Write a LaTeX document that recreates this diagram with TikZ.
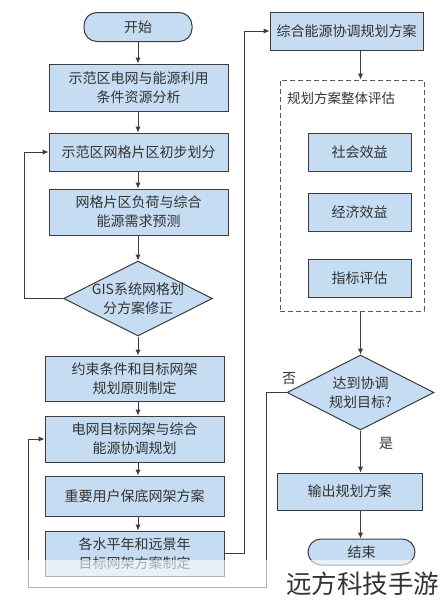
\documentclass[tikz,border=0pt]{standalone}
\usepackage{fontspec}
\setmainfont{Noto Sans CJK SC}
\usetikzlibrary{arrows.meta,shapes.geometric}
\definecolor{boxc}{HTML}{C5DCF2}
\definecolor{linec}{HTML}{3C3C3C}
\definecolor{textc}{HTML}{333333}
\begin{document}
\begin{tikzpicture}[x=1pt,y=-1pt,
  proc/.style={draw=linec, fill=boxc, line width=1pt, inner sep=0pt, align=center, text=textc, font=\fontsize{14}{19}\selectfont},
  term/.style={proc, rounded corners=13pt},
  dia/.style={draw=linec, fill=boxc, line width=1pt, diamond, inner sep=0pt},
  arr/.style={draw=linec, line width=1pt, -{Latex[length=6pt,width=5.5pt]}},
  lbl/.style={text=textc, font=\fontsize{14}{19}\selectfont, inner sep=0pt, align=center}]
\useasboundingbox (0,0) rectangle (441,600);
% left column
\node[term, minimum width=108pt, minimum height=29pt] (start) at (138,27) {开始};
\node[proc, minimum width=179pt, minimum height=47pt] (b1) at (138.5,87.5) {示范区电网与能源利用\\条件资源分析};
\node[proc, minimum width=179pt, minimum height=38pt] (b2) at (138.5,152) {示范区网格片区初步划分};
\node[proc, minimum width=179pt, minimum height=46pt] (b3) at (138.5,212) {网格片区负荷与综合\\能源需求预测};
\node[dia, minimum width=149pt, minimum height=75pt] (d1) at (138,298.5) {};
\node[lbl] (d1t) at (d1.center) {GIS系统网格划\\分方案修正};
\node[proc, minimum width=179pt, minimum height=45pt] (b4) at (134.5,378.5) {约束条件和目标网架\\规划原则制定};
\node[proc, minimum width=179pt, minimum height=46pt] (b5) at (134.5,439) {电网目标网架与综合\\能源协调规划};
\node[proc, minimum width=179pt, minimum height=40pt] (b6) at (134.5,496) {重要用户保底网架方案};
\node[proc, minimum width=179pt, minimum height=45pt] (b7) at (134.5,553.5) {各水平年和远景年\\目标网架方案制定};
% right column
\node[proc, minimum width=153pt, minimum height=38pt] (r1) at (346.5,31) {综合能源协调规划方案};
\node[draw=linec!85, line width=1pt, dash pattern=on 5pt off 3pt, minimum width=144pt, minimum height=231pt, inner sep=0pt] (ev) at (352,195.5) {};
\node[lbl, anchor=west, font=\fontsize{13.5}{17}\selectfont] (evt) at (287,98) {规划方案整体评估};
\node[proc, minimum width=103pt, minimum height=38pt] (s1) at (359.5,152) {社会效益};
\node[proc, minimum width=103pt, minimum height=38pt] (s2) at (359.5,212) {经济效益};
\node[proc, minimum width=103pt, minimum height=38pt] (s3) at (359.5,278) {指标评估};
\node[dia, minimum width=147pt, minimum height=75pt] (d2) at (360.5,392.5) {};
\node[lbl] (d2t) at (d2.center) {达到协调\\规划目标?};
\node[lbl] (no) at (289,379) {否};
\node[lbl] (yes) at (386,443) {是};
\node[proc, minimum width=145pt, minimum height=37pt] (out) at (349.5,491.5) {输出规划方案};
\node[term, minimum width=107pt, minimum height=26pt] (end) at (361.5,552) {结束};
% connectors
\draw[arr] (start.south) -- (b1.north -| start);
\draw[arr] (b1.south -| start) -- (b2.north -| start);
\draw[arr] (b2.south -| start) -- (b3.north -| start);
\draw[arr] (b3.south -| start) -- (d1.north);
\draw[arr] (d1.south) -- (b4.north -| start);
\draw[arr] (b4.south -| start) -- (b5.north -| start);
\draw[arr] (b5.south -| start) -- (b6.north -| start);
\draw[arr] (b6.south -| start) -- (b7.north -| start);
\draw[arr] (d1.west) -- ++(-39,0) |- (b2.west);
\draw[arr] (b7.east) -- ++(20,0) |- (r1.west);
\draw[arr] (r1.south -| d2) -- (ev.north -| d2);
\draw[arr] (ev.south -| d2) -- (d2.north);
\draw[arr] (d2.south) -- (out.north -| d2);
\draw[arr] (out.south -| d2) -- (end.north -| d2);
\coordinate (c1) at (266,587);
\coordinate (c2) at (28,587);
\draw[arr] (d2.west) -| (c1) -- (c2) |- (b5.west);
% watermark
\fill[white, opacity=0.6] (27,560) rectangle (441,600);
\node[anchor=west, inner sep=0pt, text=black!80, font=\fontsize{25.5}{28}\selectfont] (wm) at (286,584) {远方科技手游};
\end{tikzpicture}
\end{document}
